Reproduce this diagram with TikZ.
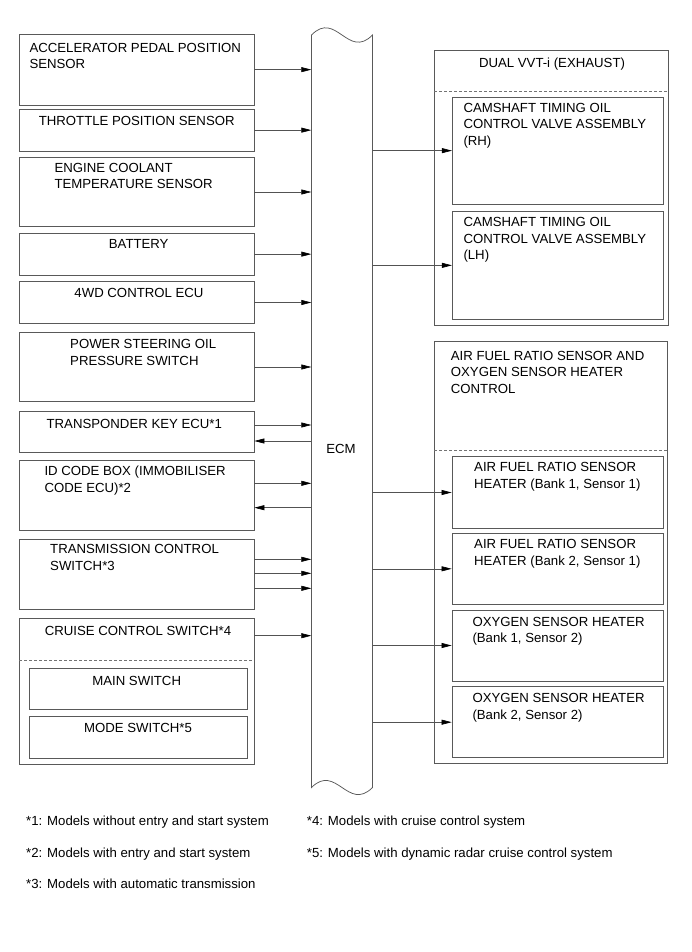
\documentclass[tikz,border=0pt]{standalone}
\usepackage{fontspec}
\setmainfont{Liberation Sans}
\usetikzlibrary{arrows.meta,fit}
\begin{document}
\begin{tikzpicture}[x=1pt,y=-1pt,
  box/.style={draw=black!65, line width=0.75pt, inner sep=0pt},
  sepline/.style={draw=black!55, line width=0.7pt, dash pattern=on 3pt off 2pt},
  txt/.style={inner sep=0pt, font=\fontsize{13.2}{16.6}\selectfont, align=left},
  arr/.style={draw=black!68, line width=0.6pt, -{Triangle[length=10pt,width=5pt,color=black]}},
  ecmline/.style={draw=black!65, line width=0.75pt}]
\useasboundingbox (0,0) rectangle (691,952);

% ECM
\node[inner sep=0pt, minimum width=61pt, minimum height=752.5pt] (ecm) at (342,411.25) {};
\draw[ecmline] (311.5,787.5) -- (311.5,35)
  .. controls (336,10) and (348,60) .. (372.5,35)
  -- (372.5,787.5)
  .. controls (348,812) and (336,763) .. (311.5,787.5) -- cycle;
\node[txt, anchor=north] (ecmlabel) at (341,444) {ECM};

% left boxes
\node[box, fit={(19.3,34.3) (254,105)}] (apps) {};
\node[box, fit={(19.3,109.3) (254,151)}] (tps) {};
\node[box, fit={(19.3,157.3) (254,226.7)}] (ect) {};
\node[box, fit={(19.3,233.3) (254,275)}] (batt) {};
\node[box, fit={(19.3,281.7) (254,323.3)}] (fwd) {};
\node[box, fit={(19.3,332.3) (254,401.7)}] (ps) {};
\node[box, fit={(19.3,411) (254,452.7)}] (tk) {};
\node[box, fit={(19.3,460) (254,530)}] (idb) {};
\node[box, fit={(19.3,539.3) (254,609.3)}] (tcs) {};
\node[box, fit={(19.3,618.3) (254,764)}] (ccs) {};
\draw[sepline] (19.3,660) -- (254,660);
\node[box, fit={(29.3,668) (247.3,709.3)}] (mainsw) {};
\node[box, fit={(29.3,716) (247.3,758.3)}] (modesw) {};

\node[txt, anchor=north west] (tapps) at (29.3,42.7) {ACCELERATOR PEDAL POSITION\\SENSOR};
\node[txt, anchor=north] (ttps) at (136.7,115.7) {THROTTLE POSITION SENSOR};
\node[txt, anchor=north west] (tect) at (54.3,162.7) {ENGINE COOLANT\\TEMPERATURE SENSOR};
\node[txt, anchor=north] (tbatt) at (138.7,239) {BATTERY};
\node[txt, anchor=north] (tfwd) at (139,288.3) {4WD CONTROL ECU};
\node[txt, anchor=north west] (tps2) at (70,339) {POWER STEERING OIL\\PRESSURE SWITCH};
\node[txt, anchor=north] (ttk) at (134.3,419) {TRANSPONDER KEY ECU*1};
\node[txt, anchor=north west] (tidb) at (44.3,465.7) {ID CODE BOX (IMMOBILISER\\CODE ECU)*2};
\node[txt, anchor=north west] (ttcs) at (50,544) {TRANSMISSION CONTROL\\SWITCH*3};
\node[txt, anchor=north] (tccs) at (138,625.7) {CRUISE CONTROL SWITCH*4};
\node[txt, anchor=north] (tmain) at (136.7,676) {MAIN SWITCH};
\node[txt, anchor=north] (tmode) at (138,723.3) {MODE SWITCH*5};

% right boxes
\node[box, fit={(434,50.7) (668,325)}] (vvt) {};
\draw[sepline] (434,91) -- (668,91);
\node[box, fit={(452.3,97.3) (663.3,204)}] (rh) {};
\node[box, fit={(452.3,211.7) (663.3,319)}] (lh) {};
\node[box, fit={(434,341) (667.7,763.3)}] (afr) {};
\draw[sepline] (434,450) -- (667.7,450);
\node[box, fit={(452,456.7) (663.3,528.3)}] (bas) {};
\node[box, fit={(452,533.3) (663.3,604.3)}] (bbs) {};
\node[box, fit={(452,610) (663.3,681)}] (cos) {};
\node[box, fit={(452,686.7) (663.3,757.7)}] (dos) {};

\node[txt, anchor=north] (tvvt) at (552,57.3) {DUAL VVT-i (EXHAUST)};
\node[txt, anchor=north west] (trh) at (463.3,102.7) {CAMSHAFT TIMING OIL\\CONTROL VALVE ASSEMBLY\\(RH)};
\node[txt, anchor=north west] (tlh) at (463.3,217.3) {CAMSHAFT TIMING OIL\\CONTROL VALVE ASSEMBLY\\(LH)};
\node[txt, anchor=north west] (tafr) at (450.7,350.7) {AIR FUEL RATIO SENSOR AND\\OXYGEN SENSOR HEATER\\CONTROL};
\node[txt, anchor=north west] (tbas) at (474,462.3) {AIR FUEL RATIO SENSOR\\HEATER (Bank 1, Sensor 1)};
\node[txt, anchor=north west] (tbbs) at (474,539) {AIR FUEL RATIO SENSOR\\HEATER (Bank 2, Sensor 1)};
\node[txt, anchor=north west] (tcos) at (472.3,616.7) {OXYGEN SENSOR HEATER\\(Bank 1, Sensor 2)};
\node[txt, anchor=north west] (tdos) at (472.3,693.3) {OXYGEN SENSOR HEATER\\(Bank 2, Sensor 2)};

% connectors, left side
\draw[arr] (apps.east) -- (apps.east -| ecm.west);
\draw[arr] (tps.east) -- (tps.east -| ecm.west);
\draw[arr] (ect.east) -- (ect.east -| ecm.west);
\draw[arr] (batt.east) -- (batt.east -| ecm.west);
\draw[arr] (fwd.east) -- (fwd.east -| ecm.west);
\draw[arr] (ps.east) -- (ps.east -| ecm.west);
\coordinate (ytka) at (0,425);
\coordinate (ytkb) at (0,441);
\coordinate (yida) at (0,483.3);
\coordinate (yidb) at (0,507.7);
\coordinate (ytca) at (0,559.3);
\coordinate (ytcb) at (0,573.3);
\coordinate (ytcc) at (0,588.3);
\coordinate (ycc) at (0,635.7);
\draw[arr] (tk.east |- ytka) -- (ecm.west |- ytka);
\draw[arr] (ecm.west |- ytkb) -- (tk.east |- ytkb);
\draw[arr] (idb.east |- yida) -- (ecm.west |- yida);
\draw[arr] (ecm.west |- yidb) -- (idb.east |- yidb);
\draw[arr] (tcs.east |- ytca) -- (ecm.west |- ytca);
\draw[arr] (tcs.east |- ytcb) -- (ecm.west |- ytcb);
\draw[arr] (tcs.east |- ytcc) -- (ecm.west |- ytcc);
\draw[arr] (ccs.east |- ycc) -- (ecm.west |- ycc);

% connectors, right side
\draw[arr] (ecm.east |- rh.west) -- (rh.west);
\draw[arr] (ecm.east |- lh.west) -- (lh.west);
\draw[arr] (ecm.east |- bas.west) -- (bas.west);
\draw[arr] (ecm.east |- bbs.west) -- (bbs.west);
\draw[arr] (ecm.east |- cos.west) -- (cos.west);
\draw[arr] (ecm.east |- dos.west) -- (dos.west);

% footnotes
\node[txt, anchor=north west] (fn1) at (26,816) {*1: Models without entry and start system};
\node[txt, anchor=north west] (fn2) at (26,848) {*2: Models with entry and start system};
\node[txt, anchor=north west] (fn3) at (26,879) {*3: Models with automatic transmission};
\node[txt, anchor=north west] (fn4) at (306.7,816) {*4: Models with cruise control system};
\node[txt, anchor=north west] (fn5) at (306.7,848) {*5: Models with dynamic radar cruise control system};
\end{tikzpicture}
\end{document}
